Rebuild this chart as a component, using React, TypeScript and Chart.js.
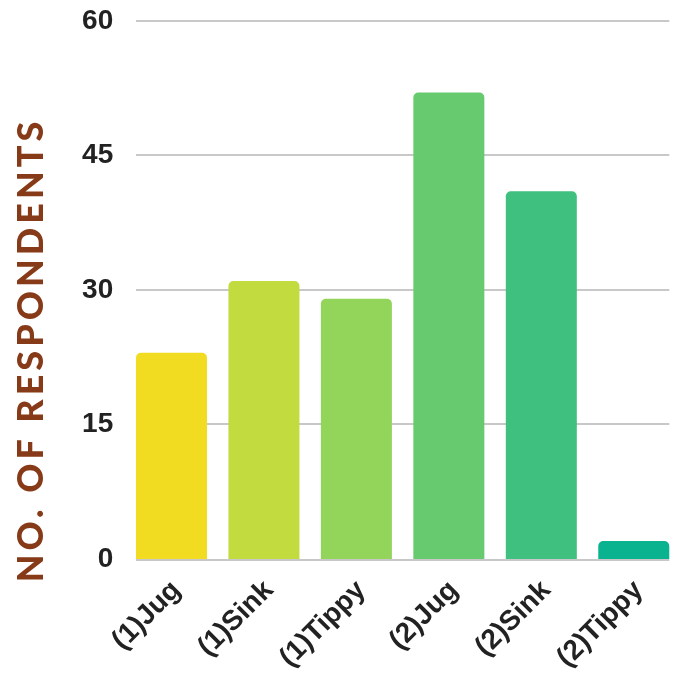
import React, { useEffect, useRef } from "react";
import { Chart, registerables } from "chart.js";

Chart.register(...registerables);

// Respondent counts per scenario
const categories = ["(1)Jug", "(1)Sink", "(1)Tippy", "(2)Jug", "(2)Sink", "(2)Tippy"];
const respondents = [23, 31, 29, 52, 41, 2];
const barColors = ["#F1DC22", "#C2DB3F", "#93D45A", "#67CA6E", "#3FC07E", "#0AB38F"];
const yMin = 0;
const yMax = 60;
const yStep = 15;
const yAxisTitle = "NO. OF RESPONDENTS";

const FONT = "'Liberation Sans', Arial, sans-serif";

// Horizontal guide lines spanning from the first bar's left edge to the last bar's right edge
const edgeGridPlugin = {
  id: "edgeGrid",
  beforeDatasetsDraw(chart: any) {
    const { ctx } = chart;
    const yScale = chart.scales.y;
    const bars = chart.getDatasetMeta(0).data;
    if (!bars.length) return;
    const first = bars[0];
    const last = bars[bars.length - 1];
    const left = first.x - first.width / 2;
    const right = last.x + last.width / 2;
    ctx.save();
    ctx.strokeStyle = "#C8C8C8";
    ctx.lineWidth = 2;
    yScale.ticks.forEach((t: any) => {
      let py = Math.round(yScale.getPixelForValue(t.value));
      if (t.value === yMin) py += 1;
      ctx.beginPath();
      ctx.moveTo(left, py);
      ctx.lineTo(right, py);
      ctx.stroke();
    });
    ctx.restore();
  },
};

// Letter-spaced vertical axis title
const axisTitlePlugin = {
  id: "axisTitle",
  afterDraw(chart: any) {
    const { ctx } = chart;
    ctx.save();
    ctx.translate(31, 350);
    ctx.rotate(-Math.PI / 2);
    ctx.font = "900 36px Lato, 'Open Sans', sans-serif";
    (ctx as any).letterSpacing = "4px";
    ctx.fillStyle = "#873A17";
    ctx.textAlign = "center";
    ctx.textBaseline = "middle";
    ctx.fillText(yAxisTitle, 0, 0);
    ctx.restore();
  },
};

export default function App() {
  const canvasRef = useRef<HTMLCanvasElement | null>(null);

  useEffect(() => {
    document.body.style.margin = "0";
    const canvas = canvasRef.current;
    if (!canvas) return;
    const chart = new Chart(canvas, {
      type: "bar",
      data: {
        labels: categories,
        datasets: [
          {
            data: respondents,
            backgroundColor: barColors,
            borderRadius: 5,
            borderSkipped: "start",
            barPercentage: 0.768,
            categoryPercentage: 1,
          },
        ],
      },
      options: {
        responsive: false,
        animation: false,
        devicePixelRatio: 1,
        layout: { padding: { top: 14, right: 0, bottom: 0, left: 0 } },
        plugins: {
          legend: { display: false },
          tooltip: { enabled: false },
        },
        scales: {
          x: {
            grid: { display: false },
            border: { display: false },
            ticks: {
              minRotation: 45,
              maxRotation: 45,
              autoSkip: false,
              color: "#222222",
              padding: 7,
              labelOffset: 5,
              font: { family: FONT, size: 28, weight: "bold" },
            },
            afterFit(scale: any) {
              scale.height = 114;
            },
          },
          y: {
            min: yMin,
            max: yMax,
            grid: { display: false },
            border: { display: false },
            ticks: {
              stepSize: yStep,
              color: "#222222",
              padding: 4,
              font: { family: FONT, size: 28, weight: "bold" },
            },
            afterFit(scale: any) {
              scale.width = 125.25;
            },
          },
        },
      },
      plugins: [edgeGridPlugin, axisTitlePlugin],
    });
    return () => chart.destroy();
  }, []);

  return (
    <div style={{ width: 680, height: 673 }}>
      <canvas ref={canvasRef} width={680} height={673} />
    </div>
  );
}
